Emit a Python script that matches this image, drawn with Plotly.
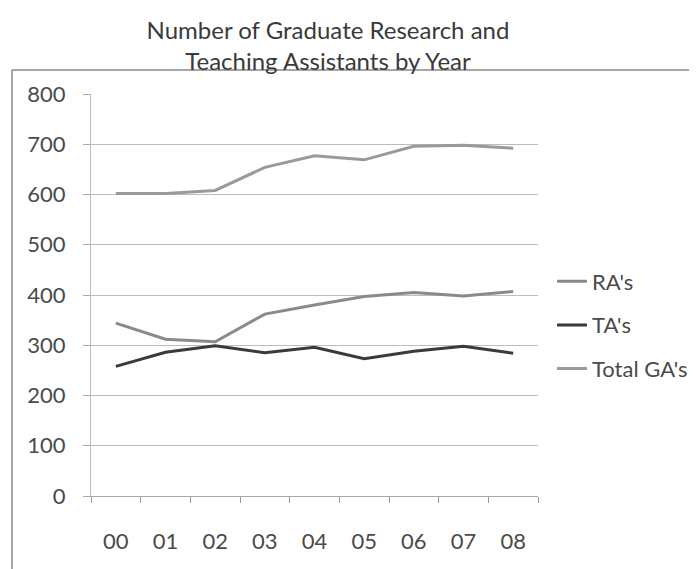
import plotly.graph_objects as go

years = ["00", "01", "02", "03", "04", "05", "06", "07", "08"]
ra = [344, 312, 307, 362, 380, 397, 405, 398, 407]
ta = [258, 286, 299, 285, 296, 273, 288, 298, 284]
total = [602, 602, 608, 654, 677, 669, 696, 698, 692]
y_ticks = [0, 100, 200, 300, 400, 500, 600, 700, 800]

font_family = "Lato, Open Sans, sans-serif"

# figure is placed at the page's 8px body margin; keep it inside the window
W, H = 689, 561
PL, PR, PT, PB = 83, 530, 86, 488
PW, PH = PR - PL, PB - PT

fig = go.Figure()
fig.add_trace(go.Scatter(x=years, y=ra, mode="lines", name="RA's",
                         line=dict(color="#8a8a8a", width=3), legendgroup="a"))
fig.add_trace(go.Scatter(x=years, y=ta, mode="lines", name="TA's",
                         line=dict(color="#3a3a3a", width=3), legendgroup="b"))
fig.add_trace(go.Scatter(x=years, y=total, mode="lines", name="Total GA's",
                         line=dict(color="#9a9a9a", width=3), legendgroup="c"))

fig.update_layout(
    width=W, height=H,
    margin=dict(l=PL, r=W - PR, t=PT, b=H - PB, autoexpand=False),
    paper_bgcolor="white", plot_bgcolor="white",
    font=dict(family=font_family, size=22, color="#4a4a4a"),
    title=dict(text="Number of Graduate Research and<br>Teaching Assistants by Year",
               x=320 / W, xanchor="center", y=1 - 30.5 / H, yanchor="top",
               font=dict(size=24, color="#3a3a3a")),
    showlegend=True,
    legend=dict(x=(544 - PL) / PW, xanchor="left", y=(PB - 317) / PH, yanchor="middle",
                tracegroupgap=12, font=dict(size=22, color="#4a4a4a"),
                bgcolor="rgba(0,0,0,0)"),
    xaxis=dict(type="category", range=[-0.5, 8.5], tickson="boundaries",
               ticks="outside", ticklen=6, tickcolor="#999", showgrid=False,
               showline=True, linecolor="#aaa", linewidth=1, automargin=False,
               tickfont=dict(size=22, color="#4a4a4a"), ticklabelstandoff=26),
    yaxis=dict(range=[0, 800], tickvals=y_ticks, ticks="outside", ticklen=7,
               tickcolor="#aaa", showgrid=True, gridcolor="#bdbdbd", gridwidth=1,
               showline=True, linecolor="#bbb", linewidth=1, zeroline=False,
               automargin=False,
               tickfont=dict(size=22, color="#4a4a4a"), ticklabelstandoff=13),
)

# outer chart frame (only its top and left edges are visible in the scan)
frame_style = dict(color="#8a8a8a", width=1.5)
fig.add_shape(type="line", xref="paper", yref="paper",
              x0=(4 - PL) / PW, x1=(W + 20 - PL) / PW,
              y0=(PB - 62) / PH, y1=(PB - 62) / PH, line=frame_style, layer="below")
fig.add_shape(type="line", xref="paper", yref="paper",
              x0=(4 - PL) / PW, x1=(4 - PL) / PW,
              y0=(PB - 62) / PH, y1=(PB - H - 20) / PH, line=frame_style, layer="below")

fig.write_html("out.html")
